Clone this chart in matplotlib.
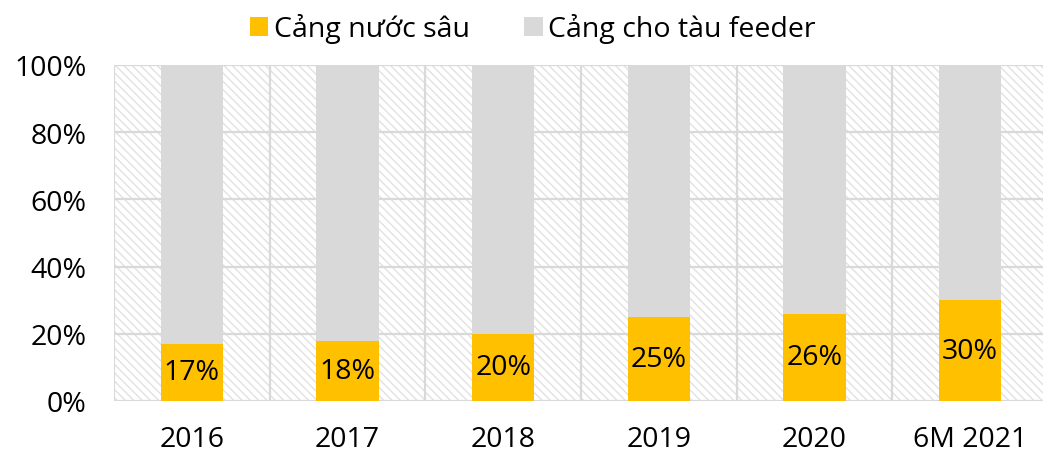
import matplotlib
matplotlib.use("Agg")
import matplotlib.pyplot as plt
from matplotlib.patches import Rectangle
import numpy as np

plt.rcParams['font.family'] = ['Open Sans', 'DejaVu Sans']
plt.rcParams['hatch.color'] = '#e2e2e2'
plt.rcParams['hatch.linewidth'] = 1.0

years = ["2016", "2017", "2018", "2019", "2020", "6M 2021"]
deep_sea = [17, 18, 20, 25, 26, 30]
feeder = [100 - v for v in deep_sea]
yticks = [0, 20, 40, 60, 80, 100]

yellow = "#FFC000"
grey = "#D9D9D9"
fs = 20.5

fig = plt.figure(figsize=(10.43, 4.56), dpi=100)
ax = fig.add_axes([114 / 1043, 1 - 402 / 456, (1048 - 114) / 1043, (402 - 66) / 456])

# hatched plot background
bg = Rectangle((0, 0), 1, 1, transform=ax.transAxes, facecolor="white",
               edgecolor="#e2e2e2", linewidth=0, hatch="\\\\\\\\", zorder=0)
ax.add_patch(bg)

x = np.arange(len(years))
ax.set_xlim(-0.5, len(years) - 0.5)
ax.set_ylim(0, 100)

for yv in yticks:
    ax.axhline(yv, color=grey, lw=1.6, zorder=1)
for b in np.arange(-0.5, len(years), 1.0):
    ax.axvline(b, color=grey, lw=1.6, zorder=1)

ax.bar(x, deep_sea, width=0.4, color=yellow, zorder=2, label="Cảng nước sâu")
ax.bar(x, feeder, width=0.4, bottom=deep_sea, color=grey, zorder=2, label="Cảng cho tàu feeder")

for xi, v in zip(x, deep_sea):
    ax.text(xi, v / 2, f"{v}%", ha="center", va="center", fontsize=fs, color="black", zorder=3)

for s in ax.spines.values():
    s.set_visible(False)

ax.set_xticks(x)
ax.set_xticklabels(years, fontsize=fs)
ax.set_yticks(yticks)
ax.set_yticklabels([f"{v}%" for v in yticks], fontsize=fs)
ax.tick_params(axis="x", length=0, pad=17)
ax.tick_params(axis="y", length=0, pad=20)

handles, labels = ax.get_legend_handles_labels()
fig.legend(handles, labels, loc="upper center", bbox_to_anchor=(0.511, 1.025), ncol=2,
           frameon=False, fontsize=fs, handlelength=0.65, handleheight=0.65,
           handletextpad=0.2, columnspacing=1.9)

fig.savefig("out.png", dpi=100)
